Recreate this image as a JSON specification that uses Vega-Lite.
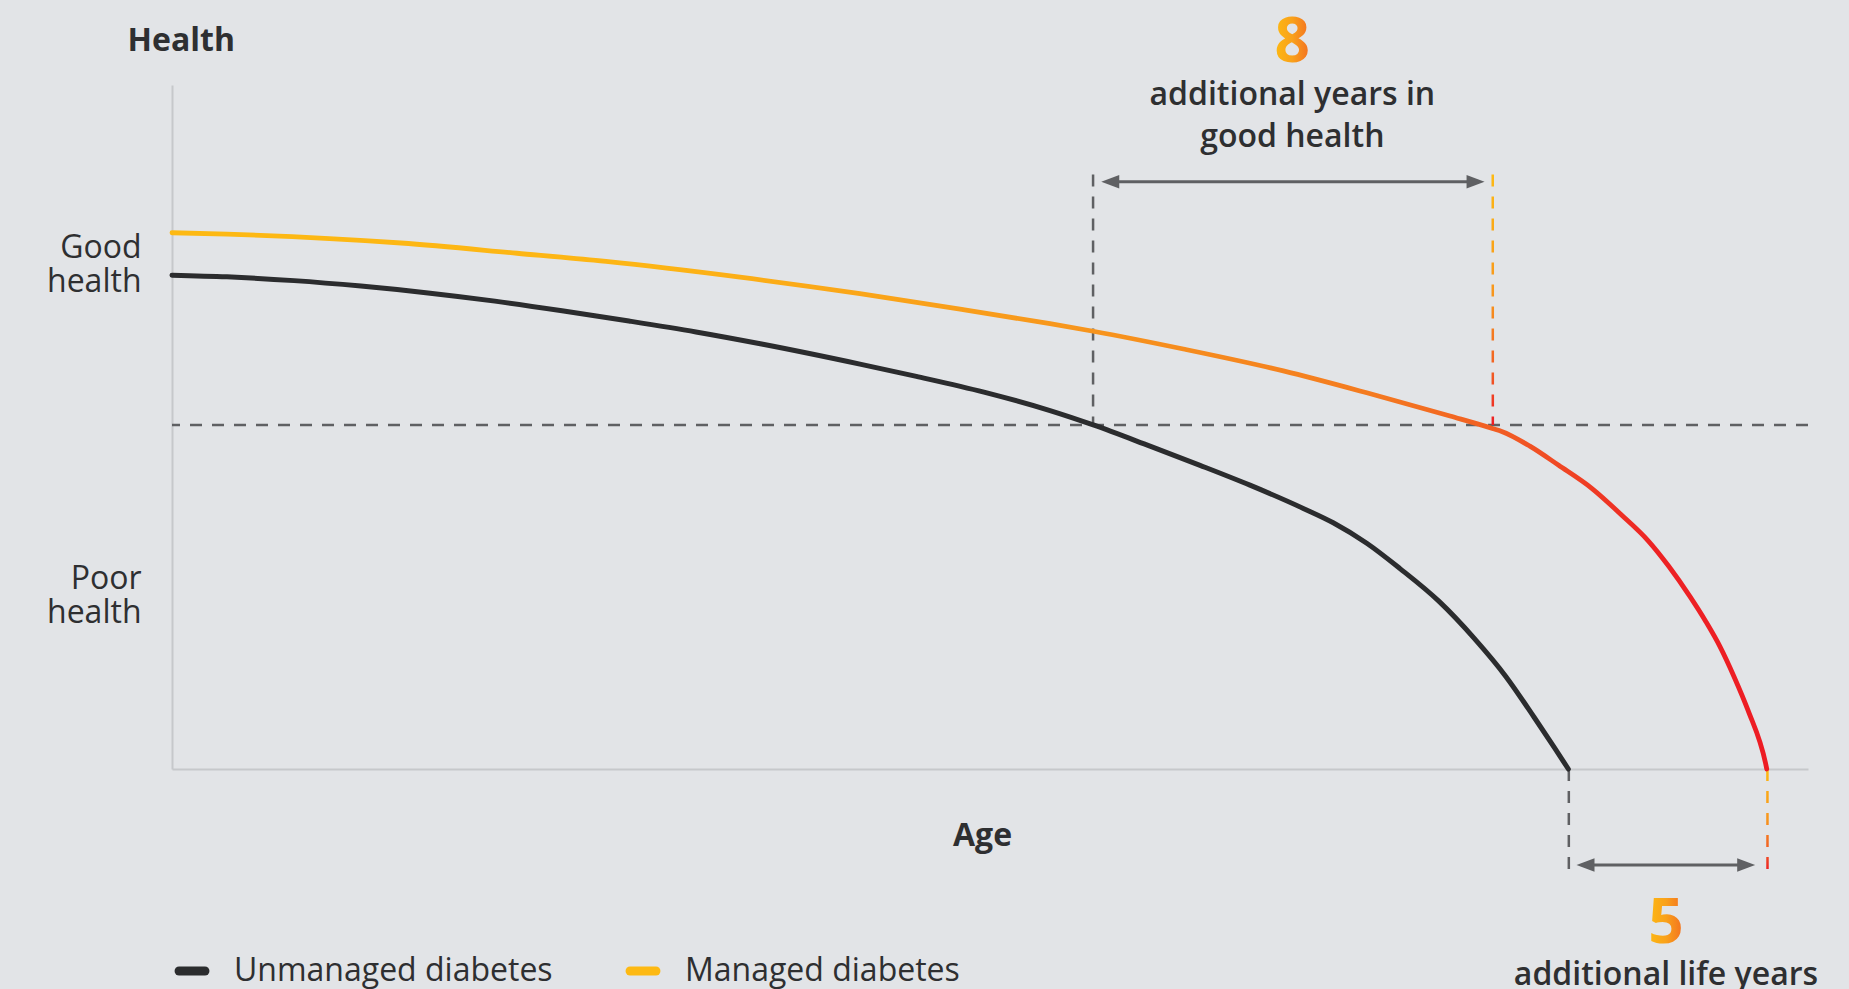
{
  "$schema": "https://vega.github.io/schema/vega-lite/v6.json",
  "width": 1636,
  "height": 684,
  "autosize": {"type": "none"},
  "padding": {"left": 172, "top": 85, "right": 41, "bottom": 220},
  "datasets": {
    "curves": [
      {"series": "Unmanaged diabetes", "age": 0, "health": 72.2},
      {"series": "Unmanaged diabetes", "age": 3.36, "health": 71.95},
      {"series": "Unmanaged diabetes", "age": 7.46, "health": 71.4},
      {"series": "Unmanaged diabetes", "age": 11.55, "health": 70.6},
      {"series": "Unmanaged diabetes", "age": 15.65, "health": 69.6},
      {"series": "Unmanaged diabetes", "age": 19.74, "health": 68.4},
      {"series": "Unmanaged diabetes", "age": 23.84, "health": 67.0},
      {"series": "Unmanaged diabetes", "age": 27.93, "health": 65.5},
      {"series": "Unmanaged diabetes", "age": 32.03, "health": 63.9},
      {"series": "Unmanaged diabetes", "age": 36.12, "health": 62.1},
      {"series": "Unmanaged diabetes", "age": 42.05, "health": 59.2},
      {"series": "Unmanaged diabetes", "age": 45.5, "health": 57.4},
      {"series": "Unmanaged diabetes", "age": 49.63, "health": 55.1},
      {"series": "Unmanaged diabetes", "age": 53.67, "health": 52.4},
      {"series": "Unmanaged diabetes", "age": 56.31, "health": 50.3},
      {"series": "Unmanaged diabetes", "age": 59.78, "health": 47.2},
      {"series": "Unmanaged diabetes", "age": 62.84, "health": 44.4},
      {"series": "Unmanaged diabetes", "age": 65.89, "health": 41.5},
      {"series": "Unmanaged diabetes", "age": 69.15, "health": 38.1},
      {"series": "Unmanaged diabetes", "age": 70.98, "health": 36.0},
      {"series": "Unmanaged diabetes", "age": 73.03, "health": 33.0},
      {"series": "Unmanaged diabetes", "age": 75.06, "health": 29.3},
      {"series": "Unmanaged diabetes", "age": 77.45, "health": 24.5},
      {"series": "Unmanaged diabetes", "age": 79.6, "health": 19.1},
      {"series": "Unmanaged diabetes", "age": 81.54, "health": 13.5},
      {"series": "Unmanaged diabetes", "age": 83.25, "health": 7.6},
      {"series": "Unmanaged diabetes", "age": 84.53, "health": 3.0},
      {"series": "Unmanaged diabetes", "age": 85.35, "health": 0},
      {"series": "Managed diabetes", "age": 0, "health": 78.4},
      {"series": "Managed diabetes", "age": 3.36, "health": 78.2},
      {"series": "Managed diabetes", "age": 14.0, "health": 76.9},
      {"series": "Managed diabetes", "age": 21.09, "health": 75.4},
      {"series": "Managed diabetes", "age": 26.53, "health": 74.2},
      {"series": "Managed diabetes", "age": 34.72, "health": 71.9},
      {"series": "Managed diabetes", "age": 42.05, "health": 69.5},
      {"series": "Managed diabetes", "age": 48.27, "health": 67.2},
      {"series": "Managed diabetes", "age": 53.67, "health": 65.1},
      {"series": "Managed diabetes", "age": 56.31, "health": 64.0},
      {"series": "Managed diabetes", "age": 61.82, "health": 61.4},
      {"series": "Managed diabetes", "age": 67.93, "health": 58.2},
      {"series": "Managed diabetes", "age": 73.03, "health": 55.0},
      {"series": "Managed diabetes", "age": 78.12, "health": 51.6},
      {"series": "Managed diabetes", "age": 80.76, "health": 49.75},
      {"series": "Managed diabetes", "age": 81.28, "health": 49.35},
      {"series": "Managed diabetes", "age": 83.0, "health": 47.2},
      {"series": "Managed diabetes", "age": 84.76, "health": 44.4},
      {"series": "Managed diabetes", "age": 86.8, "health": 41.0},
      {"series": "Managed diabetes", "age": 88.62, "health": 37.1},
      {"series": "Managed diabetes", "age": 90.22, "health": 33.4},
      {"series": "Managed diabetes", "age": 91.5, "health": 29.6},
      {"series": "Managed diabetes", "age": 92.79, "health": 25.2},
      {"series": "Managed diabetes", "age": 93.77, "health": 21.5},
      {"series": "Managed diabetes", "age": 94.62, "health": 17.9},
      {"series": "Managed diabetes", "age": 95.48, "health": 13.5},
      {"series": "Managed diabetes", "age": 96.33, "health": 8.6},
      {"series": "Managed diabetes", "age": 97.41, "health": 0.8},
      {"series": "Managed diabetes", "age": 97.48, "health": 0}
    ],
    "threshold": [{"level": "good health", "health": 50.3}],
    "greyGuides": [
      {"gap": "good health", "age": 56.3, "top": 86.9, "bottom": 50.3},
      {"gap": "life years", "age": 85.38, "top": 0, "bottom": -15.0}
    ],
    "managedGuides": [
      {"gap": "good health", "age": 80.73, "health": 86.9},
      {"gap": "good health", "age": 80.735, "health": 50.3},
      {"gap": "life years", "age": 97.52, "health": 0},
      {"gap": "life years", "age": 97.525, "health": -15.0}
    ],
    "arrows": [
      {"gap": "good health", "from": 56.8, "to": 80.23, "health": 85.86},
      {"gap": "life years", "from": 85.85, "to": 96.77, "health": -14.04}
    ],
    "notes": [
      {"number": "8", "caption": "additional years in\ngood health", "age": 68.48, "numberY": 103.36, "captionY": 97.08},
      {"number": "5", "caption": "additional life years", "age": 91.32, "numberY": -25.44, "captionY": -31.58}
    ]
  },
  "layer": [
    {
      "data": {"name": "threshold"},
      "mark": {"type": "rule", "color": "#5f6063", "strokeWidth": 2.5, "strokeDash": [12, 10]},
      "encoding": {
        "y": {"field": "health", "type": "quantitative"}
      }
    },
    {
      "data": {"name": "greyGuides"},
      "mark": {"type": "rule", "color": "#5f6063", "strokeWidth": 2.5, "strokeDash": [12, 10]},
      "encoding": {
        "x": {"field": "age", "type": "quantitative"},
        "y": {"field": "top", "type": "quantitative"},
        "y2": {"field": "bottom"}
      }
    },
    {
      "data": {"name": "managedGuides"},
      "mark": {
        "type": "line",
        "strokeWidth": 2.5,
        "strokeDash": [12, 10],
        "stroke": {
          "gradient": "linear", "x1": 0, "y1": 0, "x2": 0, "y2": 1,
          "stops": [
            {"offset": 0, "color": "#fdb913"},
            {"offset": 0.5, "color": "#f7941d"},
            {"offset": 0.8, "color": "#f15a24"},
            {"offset": 1, "color": "#ed1c24"}
          ]
        }
      },
      "encoding": {
        "x": {"field": "age", "type": "quantitative"},
        "y": {"field": "health", "type": "quantitative"},
        "detail": {"field": "gap"}
      }
    },
    {
      "data": {"name": "arrows"},
      "mark": {"type": "rule", "color": "#5f6063", "strokeWidth": 3, "xOffset": 10, "x2Offset": -10},
      "encoding": {
        "x": {"field": "from", "type": "quantitative"},
        "x2": {"field": "to"},
        "y": {"field": "health", "type": "quantitative"}
      }
    },
    {
      "data": {"name": "arrows"},
      "mark": {"type": "point", "shape": "M0,0L2,-0.75L2,0.75Z", "size": 324, "filled": true, "color": "#5f6063", "opacity": 1, "strokeWidth": 0},
      "encoding": {
        "x": {"field": "from", "type": "quantitative"},
        "y": {"field": "health", "type": "quantitative"}
      }
    },
    {
      "data": {"name": "arrows"},
      "mark": {"type": "point", "shape": "M0,0L-2,-0.75L-2,0.75Z", "size": 324, "filled": true, "color": "#5f6063", "opacity": 1, "strokeWidth": 0},
      "encoding": {
        "x": {"field": "to", "type": "quantitative"},
        "y": {"field": "health", "type": "quantitative"}
      }
    },
    {
      "data": {"name": "curves"},
      "transform": [{"filter": "datum.series == 'Unmanaged diabetes'"}],
      "mark": {"type": "line", "interpolate": "monotone", "strokeWidth": 5, "strokeCap": "round", "strokeJoin": "round"},
      "encoding": {
        "x": {
          "field": "age", "type": "quantitative",
          "scale": {"domain": [0, 100], "nice": false, "zero": false},
          "axis": {"title": "Age", "labels": false, "ticks": false, "grid": false, "titleX": 810, "titleY": 76, "titleAlign": "center", "titleBaseline": "alphabetic"}
        },
        "y": {
          "field": "health", "type": "quantitative",
          "scale": {"domain": [0, 100], "nice": false, "zero": false},
          "axis": {
            "title": "Health", "ticks": false, "grid": false,
            "values": [27.9, 76.2],
            "labelExpr": "datum.value > 50 ? ['Good', 'health'] : ['Poor', 'health']",
            "titleAngle": 0, "titleX": -45, "titleY": -35, "titleAlign": "left", "titleBaseline": "alphabetic"
          }
        },
        "color": {
          "field": "series", "type": "nominal",
          "scale": {"domain": ["Unmanaged diabetes", "Managed diabetes"], "range": ["#2b2c2e", "#fdb913"]},
          "legend": {
            "title": null,
            "orient": "none",
            "direction": "horizontal",
            "legendX": -2,
            "legendY": 864,
            "symbolType": "M-0.74,0L0.74,0",
            "symbolSize": 1225,
            "symbolStrokeWidth": 9,
            "labelFontSize": 32,
            "labelColor": "#2e2f31",
            "labelOffset": 20,
            "labelLimit": 0,
            "columnPadding": 59,
            "padding": 0,
            "encode": {"symbols": {"update": {"strokeCap": {"value": "round"}}}}
          }
        }
      }
    },
    {
      "data": {"name": "curves"},
      "transform": [{"filter": "datum.series == 'Managed diabetes'"}],
      "mark": {
        "type": "line",
        "interpolate": "monotone",
        "strokeWidth": 4.8,
        "strokeCap": "round",
        "strokeJoin": "round",
        "stroke": {
          "gradient": "linear", "x1": 0, "y1": 0, "x2": 1, "y2": 0,
          "stops": [
            {"offset": 0, "color": "#fdb913"},
            {"offset": 0.3, "color": "#fdb515"},
            {"offset": 0.58, "color": "#f7941d"},
            {"offset": 0.75, "color": "#f47b20"},
            {"offset": 0.84, "color": "#f15a24"},
            {"offset": 0.93, "color": "#ed2224"},
            {"offset": 1, "color": "#ed1c24"}
          ]
        }
      },
      "encoding": {
        "x": {"field": "age", "type": "quantitative"},
        "y": {"field": "health", "type": "quantitative"}
      }
    },
    {
      "data": {"name": "notes"},
      "mark": {
        "type": "text", "fontSize": 62, "fontWeight": 700, "align": "center", "baseline": "alphabetic",
        "fill": {
          "gradient": "linear", "x1": 0, "y1": 0, "x2": 1, "y2": 0,
          "stops": [
            {"offset": 0, "color": "#fdb913"},
            {"offset": 0.5, "color": "#f9a11b"},
            {"offset": 1, "color": "#f36f21"}
          ]
        }
      },
      "encoding": {
        "x": {"field": "age", "type": "quantitative"},
        "y": {"field": "numberY", "type": "quantitative"},
        "text": {"field": "number"}
      }
    },
    {
      "data": {"name": "notes"},
      "mark": {"type": "text", "fontSize": 32, "fontWeight": 600, "align": "center", "baseline": "alphabetic", "lineBreak": "\n", "lineHeight": 42, "color": "#2e2f31"},
      "encoding": {
        "x": {"field": "age", "type": "quantitative"},
        "y": {"field": "captionY", "type": "quantitative"},
        "text": {"field": "caption"}
      }
    }
  ],
  "config": {
    "background": "#e2e4e7",
    "font": "Open Sans",
    "view": {"stroke": null},
    "axis": {
      "domainColor": "#c6c8cb",
      "domainWidth": 2,
      "tickSize": 0,
      "labelFont": "Open Sans",
      "labelFontSize": 32,
      "labelColor": "#2e2f31",
      "labelPadding": 31,
      "labelAlign": "right",
      "labelBaseline": "middle",
      "labelLineHeight": 34,
      "titleFont": "Open Sans",
      "titleFontSize": 32,
      "titleFontWeight": 700,
      "titleColor": "#2e2f31"
    }
  }
}
